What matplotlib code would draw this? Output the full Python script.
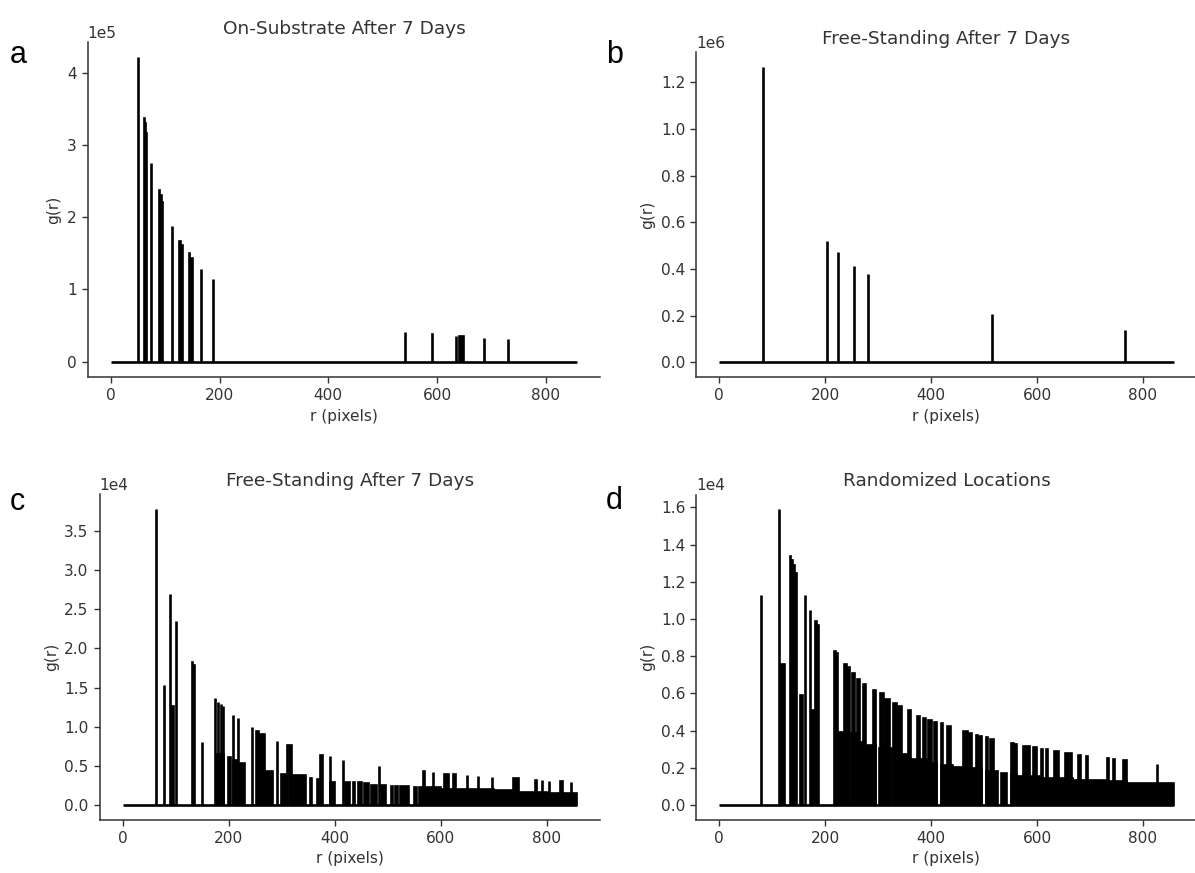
import numpy as np
import matplotlib
matplotlib.use("Agg")
import matplotlib.pyplot as plt
from matplotlib.ticker import MultipleLocator

# ---------------- data (r in pixels, g(r) in units of the axis offset) ----------------
r_end = 858

titles = ["On-Substrate After 7 Days", "Free-Standing After 7 Days",
          "Free-Standing After 7 Days", "Randomized Locations"]
letters = ["a", "b", "c", "d"]
scales = [1e5, 1e6, 1e4, 1e4]
ysteps = [1.0, 0.2, 0.5, 0.2]

# Panel a: blocks [r_lo, r_hi] with height g (1e5); r_lo == r_hi is a single spike
a_lo = [49, 60, 62, 64, 74.5, 88, 90, 93, 112, 126, 129, 143, 146, 166, 188,
        542, 590, 635, 641, 686, 730]
a_hi = [49, 62, 64, 67, 74.5, 90, 93, 96, 112, 129, 133, 146, 150, 166, 188,
        542, 592, 635, 650, 686, 730]
a_g = [4.21, 3.37, 3.30, 3.16, 2.75, 2.38, 2.30, 2.21, 1.88, 1.67, 1.61, 1.50, 1.43,
       1.28, 1.14, 0.41, 0.38, 0.355, 0.35, 0.33, 0.31]

# Panel b (1e6)
b_lo = [83.6, 203.8, 224, 254.7, 280.5, 515.7, 766]
b_hi = [83.6, 203.8, 224, 254.7, 280.5, 515.7, 766]
b_g = [1.266, 0.519, 0.472, 0.414, 0.377, 0.206, 0.138]

# Panel c (1e4)
c_lo = [63, 77.7, 89, 91, 101.6, 131, 133, 150.5, 174.5, 176, 181, 185, 190,
        199, 208, 209, 218.5, 220, 243.5, 251, 258, 268, 292, 299, 310, 315, 320,
        353, 366, 373, 391, 391, 415.5, 419, 435, 444, 456, 469, 484.5, 487,
        507, 515, 524, 550, 560, 600, 650, 700, 734, 800,
        566, 586.5, 607, 624, 650.5, 671, 698, 737, 778, 791.5, 804.7, 825, 847]
c_hi = [63, 77.7, 89, 98, 101.6, 133, 136, 150.5, 174.5, 192, 181, 185, 190,
        205, 208, 218, 218.5, 232, 243.5, 258, 268, 284, 292, 309, 313, 319, 346,
        358, 371, 379, 391, 400, 415.5, 430, 439, 451, 465, 481, 484.5, 497,
        510, 519, 541, 555, 600, 650, 700, 734, 800, 858,
        570, 586.5, 616, 629, 650.5, 671, 698, 748, 782, 791.5, 804.7, 831, 847]
c_g = [3.78, 1.53, 2.69, 1.26, 2.35, 1.83, 1.79, 0.80, 1.37, 0.65, 1.31, 1.29, 1.26,
       0.61, 1.15, 0.57, 1.11, 0.53, 0.99, 0.95, 0.91, 0.43, 0.82, 0.40, 0.77, 0.76, 0.38,
       0.34, 0.33, 0.64, 0.62, 0.30, 0.58, 0.30, 0.29, 0.29, 0.28, 0.26, 0.50, 0.26,
       0.24, 0.24, 0.24, 0.23, 0.225, 0.21, 0.20, 0.19, 0.17, 0.15,
       0.43, 0.42, 0.40, 0.40, 0.38, 0.37, 0.36, 0.34, 0.32, 0.32, 0.31, 0.31, 0.29]

# Panel d (1e4)
d_lo = [79.2, 113.8, 116, 133, 136, 139, 143, 152.8, 162.3, 171.7, 173, 181, 184,
        216, 220, 225,
        236, 242, 250, 260, 271, 290, 304, 313, 328, 338, 357, 373, 384, 395, 406,
        249, 262, 275, 301, 333, 354, 392,
        418, 429.6, 461, 471.7, 484.3, 491.2, 504, 511.3, 550, 556, 574, 593, 607,
        617, 632, 652.8, 678, 692.4, 731.4, 743, 763, 827,
        418, 442, 461, 503, 532, 550, 563, 605.7, 668.6, 731.4, 769]
d_hi = [79.2, 113.8, 124, 136, 139, 143, 147, 159, 162.3, 171.7, 179, 184, 188,
        220, 225, 236,
        242, 248, 256, 266, 278, 296, 311, 322, 335, 346, 363, 379, 390, 401, 411,
        262, 275, 295.5, 327, 354, 392, 412,
        422, 437.7, 469, 476.7, 489.3, 495.6, 507, 518.9, 556, 563, 587, 599.4, 612,
        621.4, 641.5, 665.4, 682.4, 696.9, 736.5, 747.4, 769.2, 827,
        442, 461, 497, 525.5, 543, 563, 605.7, 668.6, 731.4, 769, 858]
d_g = [1.13, 1.59, 0.76, 1.34, 1.32, 1.29, 1.25, 0.59, 1.13, 1.05, 0.51, 0.99, 0.97,
       0.83, 0.82, 0.39,
       0.76, 0.74, 0.71, 0.68, 0.65, 0.62, 0.60, 0.57, 0.55, 0.53, 0.51, 0.48, 0.47, 0.455, 0.445,
       0.385, 0.34, 0.32, 0.305, 0.274, 0.25, 0.224,
       0.439, 0.425, 0.40, 0.385, 0.376, 0.371, 0.364, 0.353, 0.335, 0.328, 0.317, 0.31, 0.299,
       0.299, 0.29, 0.281, 0.269, 0.263, 0.251, 0.245, 0.242, 0.22,
       0.215, 0.206, 0.197, 0.185, 0.174, 0.167, 0.156, 0.147, 0.134, 0.129, 0.12]

panels = [(a_lo, a_hi, a_g), (b_lo, b_hi, b_g), (c_lo, c_hi, c_g), (d_lo, d_hi, d_g)]

# ---------------- layout ----------------
W, H = 1195, 873
fig = plt.figure(figsize=(W / 100, H / 100), dpi=100)
fig.patch.set_facecolor("white")

# axes boxes in pixels: left, top, right, bottom
boxes = [(87.7, 42.1, 600.5, 377.0),
         (696.3, 52.0, 1196.5, 377.0),
         (99.8, 494.2, 600.0, 819.8),
         (696.3, 494.5, 1196.5, 819.8)]
letter_pos = [(10, 63), (606, 63), (10, 510), (606, 509)]

LW = 1.9
BLW = 1.2
TXT = "#333333"
FS = 11.1

for i, (lo, hi, g) in enumerate(panels):
    l, t, r, b = boxes[i]
    ax = fig.add_axes([l / W, 1 - b / H, (r - l) / W, (b - t) / H])
    ax.use_sticky_edges = False
    s = scales[i]
    lo = np.asarray(lo, float)
    hi = np.asarray(hi, float)
    g = np.asarray(g, float) * s

    ax.plot([0, r_end], [0, 0], color="k", lw=LW, solid_capstyle="butt")
    blk = hi > lo
    ax.bar(lo[blk], g[blk], width=(hi - lo)[blk], align="edge",
           color="k", edgecolor="k", linewidth=BLW)
    ax.vlines(lo[~blk], 0, g[~blk], color="k", lw=LW)

    ax.margins(0.05)
    ax.xaxis.set_major_locator(MultipleLocator(200))
    ax.yaxis.set_major_locator(MultipleLocator(ysteps[i] * s))
    ax.ticklabel_format(axis="y", style="sci", scilimits=(0, 0))
    ax.yaxis.get_offset_text().set_fontsize(FS)
    ax.yaxis.get_offset_text().set_color(TXT)

    for side in ("top", "right"):
        ax.spines[side].set_visible(False)
    for side in ("left", "bottom"):
        ax.spines[side].set_color(TXT)
        ax.spines[side].set_linewidth(1.1)
    ax.tick_params(labelsize=FS, colors=TXT, length=4.5, width=1.0)
    ax.set_xlabel("r (pixels)", fontsize=FS, color=TXT)
    ax.set_ylabel("g(r)", fontsize=FS, color=TXT)
    ax.set_title(titles[i], fontsize=13.3, color=TXT)

    lx, ly = letter_pos[i]
    fig.text(lx / W, 1 - ly / H, letters[i], fontsize=22,
             family=["Liberation Sans", "DejaVu Sans"], color="k",
             ha="left", va="baseline")

fig.savefig("out.png", dpi=100, facecolor="white")
